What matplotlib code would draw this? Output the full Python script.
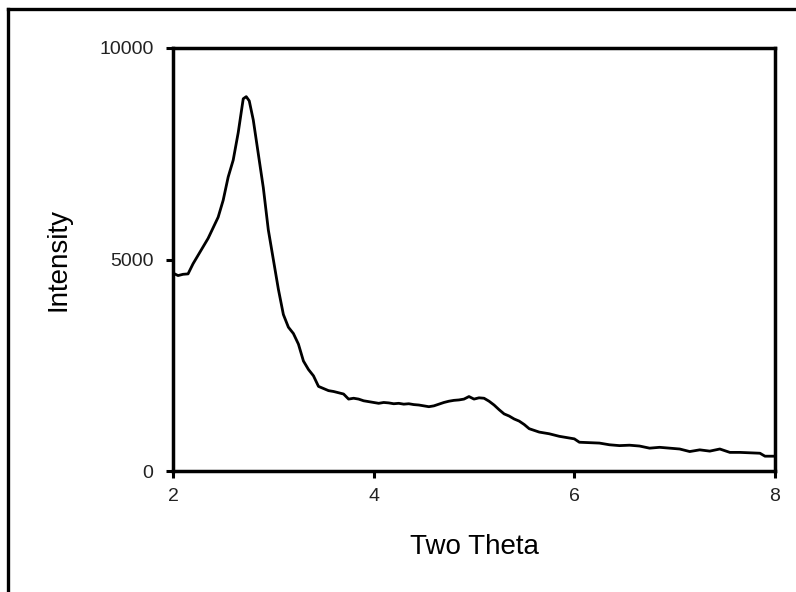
import matplotlib
matplotlib.use("Agg")
import matplotlib.pyplot as plt
from matplotlib.lines import Line2D

plt.rcParams['font.family'] = ['Liberation Sans', 'DejaVu Sans']

two_theta = [2.00, 2.05, 2.10, 2.15, 2.20, 2.25, 2.30, 2.35, 2.40, 2.45, 2.50, 2.55, 2.60, 2.65,
             2.70, 2.73, 2.76, 2.80, 2.85, 2.90, 2.95, 3.00, 3.05, 3.10, 3.15, 3.20, 3.25, 3.30,
             3.35, 3.40, 3.45, 3.50, 3.55, 3.60, 3.65, 3.70, 3.75, 3.80, 3.85, 3.90, 3.95, 4.00,
             4.05, 4.10, 4.15, 4.20, 4.25, 4.30, 4.35, 4.40, 4.45, 4.50, 4.55, 4.60, 4.65, 4.70,
             4.75, 4.80, 4.85, 4.90, 4.95, 5.00, 5.05, 5.10, 5.15, 5.20, 5.25, 5.30, 5.35, 5.40,
             5.45, 5.50, 5.55, 5.60, 5.65, 5.70, 5.75, 5.80, 5.85, 5.90, 5.95, 6.00, 6.05, 6.15,
             6.25, 6.35, 6.45, 6.55, 6.65, 6.75, 6.85, 6.95, 7.05, 7.15, 7.25, 7.35, 7.45, 7.55,
             7.65, 7.75, 7.85, 7.90, 8.00]
intensity = [4680, 4620, 4650, 4660, 4900, 5100, 5300, 5500, 5750, 6000, 6400, 6950, 7350, 8000,
             8800, 8850, 8750, 8300, 7500, 6700, 5700, 5000, 4300, 3700, 3400, 3250, 3000, 2600,
             2400, 2250, 2000, 1950, 1900, 1880, 1850, 1820, 1700, 1720, 1700, 1660, 1640, 1620,
             1600, 1620, 1610, 1590, 1600, 1580, 1590, 1570, 1560, 1540, 1520, 1540, 1580, 1620,
             1650, 1670, 1680, 1700, 1760, 1700, 1730, 1720, 1650, 1560, 1450, 1350, 1300, 1230,
             1180, 1100, 1000, 960, 920, 900, 880, 850, 820, 800, 780, 760, 680, 670,
             660, 620, 600, 610, 590, 540, 560, 540, 520, 460, 500, 470, 520, 440,
             440, 430, 420, 350, 350]

x_ticks = [2, 4, 6, 8]
y_ticks = [0, 5000, 10000]

fig = plt.figure(figsize=(7.96, 5.92), dpi=100)
ax = fig.add_axes([173/796, 1 - 471/592, (775 - 173)/796, (471 - 48)/592])

ax.plot(two_theta, intensity, color='black', linewidth=2.0)
ax.set_xlim(2, 8)
ax.set_ylim(0, 10000)
ax.set_xticks(x_ticks)
ax.set_xticklabels([str(t) for t in x_ticks])
ax.set_yticks(y_ticks)
ax.set_yticklabels([str(t) for t in y_ticks])

for s in ax.spines.values():
    s.set_linewidth(2.5)
ax.tick_params(direction='out', length=5, width=2.2, labelsize=14, labelcolor='#222222', pad=7)
ax.tick_params(axis='y', pad=9)

ax.set_xlabel('Two Theta', fontsize=20, labelpad=21)
ax.set_ylabel('Intensity', fontsize=20, labelpad=20)

# outer frame (clipped at right and bottom of the image)
fig.add_artist(Line2D([8/796, 8/796], [0, 1 - 9/592], transform=fig.transFigure,
                      color='black', linewidth=2.4, solid_capstyle='projecting'))
fig.add_artist(Line2D([8/796, 1.0], [1 - 9/592, 1 - 9/592], transform=fig.transFigure,
                      color='black', linewidth=2.4, solid_capstyle='projecting'))

fig.savefig('out.png', dpi=100)
